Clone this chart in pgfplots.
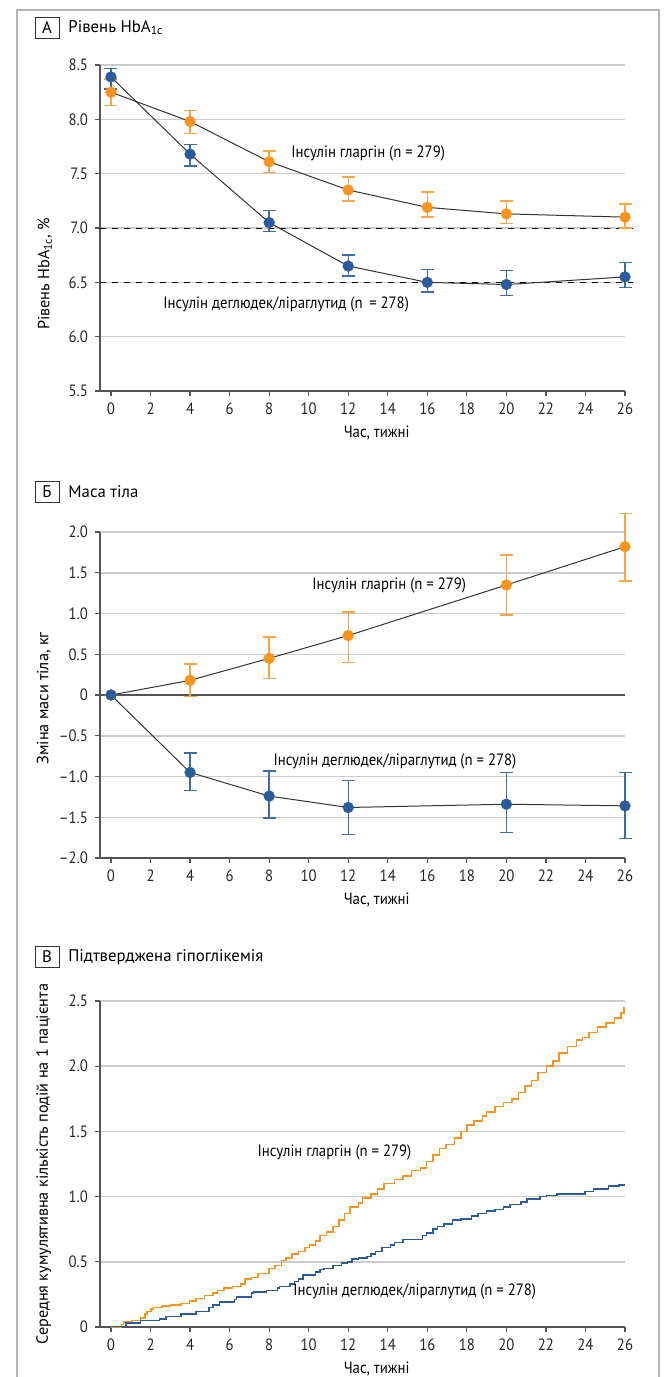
\documentclass[border=0pt]{standalone}
\usepackage{fontspec}
\setmainfont{PT Sans}
\newfontfamily\cond[FakeStretch=0.9]{PT Sans}
\usepackage{pgfplots}
\usepackage{pgfplotstable}
\pgfplotsset{compat=1.18}

\definecolor{orng}{HTML}{F7941D}
\definecolor{orngE}{HTML}{F8A447}
\definecolor{blu}{HTML}{2C5B9B}
\definecolor{bluE}{HTML}{3F6BA8}
\definecolor{gridc}{HTML}{CCCCCC}
\definecolor{axc}{HTML}{555555}
\definecolor{framec}{HTML}{B4B4B4}

\newcommand{\tf}{\cond\fontsize{8.2}{9.5}\selectfont}
\newcommand{\hf}{\fontsize{8.4}{10}\selectfont}
\newcommand{\lf}{\fontsize{8.1}{9.5}\selectfont}

\pgfplotstableread{
x y ep em
0 8.25 0.12 0.12
4 7.98 0.10 0.11
8 7.61 0.10 0.10
12 7.35 0.12 0.10
16 7.19 0.14 0.09
20 7.13 0.12 0.09
26 7.10 0.12 0.10
}\Aor
\pgfplotstableread{
x y ep em
0 8.39 0.08 0.11
4 7.68 0.09 0.11
8 7.05 0.11 0.08
12 6.65 0.10 0.09
16 6.50 0.12 0.09
20 6.48 0.13 0.10
26 6.55 0.13 0.10
}\Abl
\pgfplotstableread{
x y ep em
0 0 0 0
4 0.18 0.20 0.20
8 0.45 0.26 0.25
12 0.73 0.29 0.33
20 1.35 0.37 0.37
26 1.82 0.41 0.42
}\Bor
\pgfplotstableread{
x y ep em
0 0 0 0
4 -0.95 0.24 0.22
8 -1.24 0.31 0.27
12 -1.38 0.33 0.33
20 -1.34 0.39 0.35
26 -1.36 0.41 0.40
}\Bbl
\pgfplotstableread{
x y
0 0
0.52 0.02
0.63 0.04
1.06 0.05
1.49 0.07
1.71 0.10
1.82 0.12
2.03 0.14
2.14 0.15
2.57 0.16
3.00 0.17
3.54 0.18
3.98 0.20
4.30 0.22
4.73 0.24
5.17 0.26
5.38 0.28
5.71 0.30
6.14 0.31
6.57 0.33
6.79 0.37
7.11 0.38
7.43 0.41
7.98 0.45
8.30 0.47
8.62 0.51
8.84 0.53
9.16 0.56
9.49 0.58
9.81 0.61
10.03 0.63
10.35 0.66
10.57 0.70
10.89 0.73
11.22 0.77
11.54 0.82
11.82 0.87
12.08 0.92
12.51 0.95
12.73 0.99
13.16 1.02
13.49 1.06
13.81 1.10
14.35 1.13
14.78 1.16
15.21 1.20
15.65 1.22
15.97 1.27
16.30 1.32
16.62 1.37
16.94 1.40
17.38 1.45
17.70 1.50
18.02 1.55
18.35 1.58
18.78 1.62
19.00 1.65
19.43 1.69
19.86 1.72
20.29 1.75
20.62 1.80
20.94 1.85
21.27 1.89
21.59 1.95
22.02 2.00
22.35 2.04
22.67 2.10
23.10 2.15
23.54 2.20
23.86 2.22
24.18 2.26
24.62 2.30
25.05 2.33
25.48 2.37
25.80 2.41
25.96 2.45
26.00 2.45
}\Cor
\pgfplotstableread{
x y
0 0.005
0.75 0.03
1.49 0.05
2.46 0.06
2.79 0.08
3.54 0.10
4.30 0.12
4.95 0.15
5.17 0.17
5.49 0.19
6.25 0.21
6.35 0.23
7.11 0.26
7.22 0.27
7.87 0.28
8.41 0.30
8.52 0.31
9.06 0.33
9.27 0.35
9.49 0.37
9.71 0.40
10.35 0.42
10.57 0.44
10.78 0.45
11.22 0.47
11.65 0.49
11.97 0.50
12.19 0.52
12.51 0.53
12.95 0.54
13.16 0.56
13.38 0.58
13.70 0.61
14.13 0.63
14.35 0.65
14.78 0.67
15.76 0.70
15.97 0.72
16.30 0.75
16.51 0.77
16.84 0.79
17.27 0.82
17.70 0.83
18.24 0.85
18.56 0.87
19.00 0.89
19.43 0.90
19.86 0.92
20.19 0.94
20.73 0.96
21.05 0.98
21.70 1.00
22.02 1.01
22.56 1.02
23.97 1.04
24.40 1.06
25.16 1.08
25.70 1.09
26.00 1.09
}\Cbl

\pgfplotsset{
  panel/.style={
    scale only axis, width=262.5pt, height=163pt,
    xmin=-0.556, xmax=26,
    axis lines=left,
    axis line style={axc, line width=0.65pt, -},
    xtick={0,2,...,26},
    tick style={axc, line width=0.6pt},
    major tick length=2.5pt,
    tick align=outside,
    ymajorgrids, grid style={gridc, line width=0.75pt},
    clip=false,
    ticklabel style={font=\tf, text=black!85},
    /pgf/number format/assume math mode=true,
    xlabel={Час, тижні},
    xlabel style={font=\tf, at={(axis description cs:0.527,-0.129)}, anchor=center},
    ylabel style={font=\lf, anchor=center},
  },
  orser/.style={draw=black!80, line width=0.5pt, mark=*, mark size=2.75pt,
    mark options={fill=orng, draw=orng, line width=0.1pt},
    error bars/.cd, y dir=both, y explicit,
    error bar style={orngE, line width=0.7pt},
    error mark options={rotate=90, mark size=3.25pt, orngE, line width=0.7pt}},
  blser/.style={draw=black!80, line width=0.5pt, mark=*, mark size=2.75pt,
    mark options={fill=blu, draw=blu, line width=0.1pt},
    error bars/.cd, y dir=both, y explicit,
    error bar style={bluE, line width=0.7pt},
    error mark options={rotate=90, mark size=3.25pt, bluE, line width=0.7pt}},
}

\begin{document}
\begin{tikzpicture}
\useasboundingbox (0,0) rectangle (334pt,-688.5pt);
\draw[framec, line width=0.8pt] (8.5pt,-720pt) -- (8.5pt,-5pt) -- (329.5pt,-5pt) -- (329.5pt,-720pt);

% Panel titles
\node[draw=black!80, line width=0.5pt, minimum width=12pt, minimum height=10.5pt, inner sep=0pt, font=\hf] at (23.5pt,-13.8pt) {А};
\node[anchor=west, inner sep=0pt, font=\hf] at (34pt,-13.8pt) {Рівень HbA\textsubscript{1c}};
\node[draw=black!80, line width=0.5pt, minimum width=12pt, minimum height=10.5pt, inner sep=0pt, font=\hf] at (23.5pt,-245.8pt) {Б};
\node[anchor=west, inner sep=0pt, font=\hf] at (34pt,-245.8pt) {Маса тіла};
\node[draw=black!80, line width=0.5pt, minimum width=12pt, minimum height=10.5pt, inner sep=0pt, font=\hf] at (23.5pt,-478.5pt) {В};
\node[anchor=west, inner sep=0pt, font=\hf] at (34pt,-478.5pt) {Підтверджена гіпоглікемія};

% Panel A
\begin{axis}[panel, at={(50pt,-195.5pt)}, anchor=south west,
  ymin=5.5, ymax=8.5, ytick={5.5,6.0,...,8.5},
  yticklabels={5.5,6.0,6.5,7.0,7.5,8.0,8.5},
  ylabel={Рівень HbA\textsubscript{1c}, \%},
  ylabel style={at={(axis description cs:-0.105,0.36)}}]
\draw[black, dashed, line width=0.5pt] (axis cs:-0.556,7.0) -- (axis cs:26.4,7.0);
\draw[black, dashed, line width=0.5pt] (axis cs:-0.556,6.5) -- (axis cs:26.4,6.5);
\addplot[orser] table[x=x, y=y, y error plus=ep, y error minus=em] {\Aor};
\addplot[blser] table[x=x, y=y, y error plus=ep, y error minus=em] {\Abl};
\node[anchor=west, font=\tf, inner sep=0pt] at (axis cs:9.1,7.69) {Інсулін гларгін (n = 279)};
\node[anchor=west, font=\tf, inner sep=0pt] at (axis cs:2.63,6.30) {Інсулін деглюдек/ліраглутид (n\, = 278)};
\end{axis}

% Panel B
\begin{axis}[panel, at={(50pt,-429pt)}, anchor=south west,
  ymin=-2, ymax=2, ytick={-2,-1.5,...,2},
  yticklabels={–2.0,–1.5,–1.0,–0.5,0,0.5,1.0,1.5,2.0},
  ylabel={Зміна маси тіла, кг},
  ylabel style={at={(axis description cs:-0.107,0.49)}}]
\draw[axc, line width=0.65pt] (axis cs:-0.556,0) -- (axis cs:26,0);
\addplot[orser] table[x=x, y=y, y error plus=ep, y error minus=em] {\Bor};
\addplot[blser] table[x=x, y=y, y error plus=ep, y error minus=em] {\Bbl};
\node[anchor=west, font=\tf, inner sep=0pt] at (axis cs:10.17,1.35) {Інсулін гларгін (n = 279)};
\node[anchor=west, font=\tf, inner sep=0pt] at (axis cs:8.2,-0.82) {Інсулін деглюдек/ліраглутид (n = 278)};
\end{axis}

% Panel C
\begin{axis}[panel, at={(50pt,-663.5pt)}, anchor=south west,
  ymin=0, ymax=2.5, ytick={0,0.5,...,2.5},
  yticklabels={0,0.5,1.0,1.5,2.0,2.5},
  ylabel={Середня кумулятивна кількість подій на 1 пацієнта},
  ylabel style={at={(axis description cs:-0.107,0.50)}}]
\addplot[orng, line width=0.75pt, const plot] table[x=x, y=y] {\Cor};
\addplot[blu, line width=0.75pt, const plot] table[x=x, y=y] {\Cbl};
\node[anchor=west, font=\tf, inner sep=0pt] at (axis cs:7.4,1.34) {Інсулін гларгін (n = 279)};
\node[anchor=west, font=\tf, inner sep=0pt] at (axis cs:9.2,0.27) {Інсулін деглюдек/ліраглутид (n = 278)};
\end{axis}
\end{tikzpicture}
\end{document}
